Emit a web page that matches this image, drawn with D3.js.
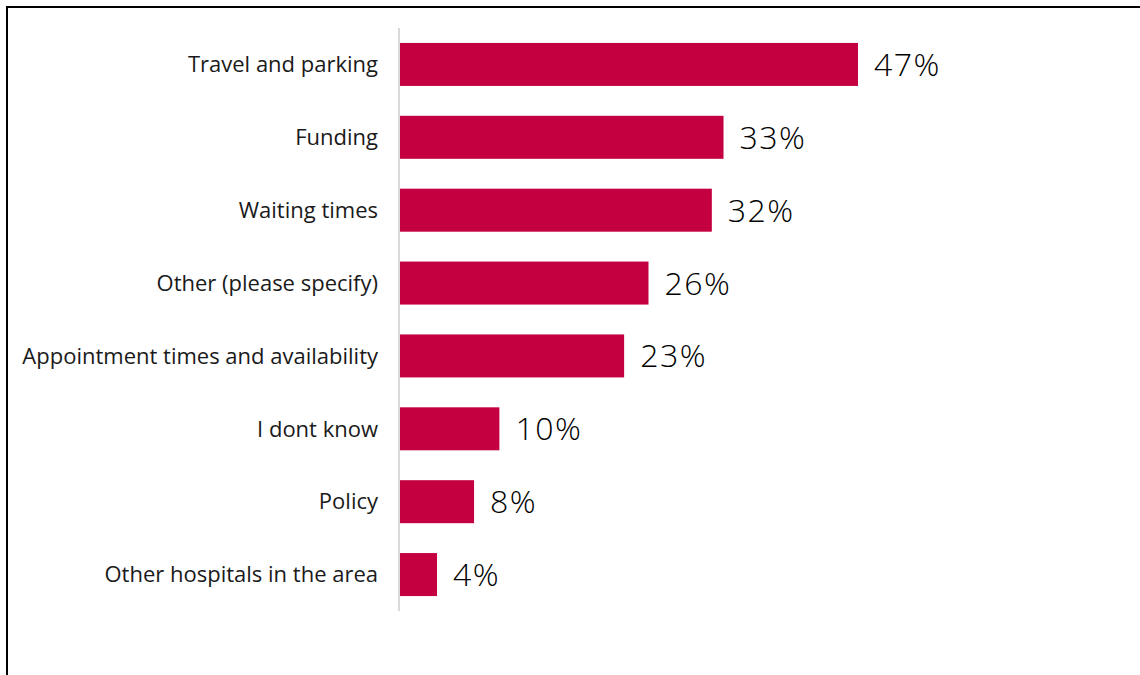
<!DOCTYPE html>
<html>
<head>
<meta charset="utf-8">
<script src="https://cdn.jsdelivr.net/npm/d3@7"></script>
<style>
  html, body { margin: 0; padding: 0; background: #fff; }
  svg { display: block; }
</style>
</head>
<body>
<svg id="chart" width="1140" height="675"></svg>
<script>
const categories = [
  "Travel and parking",
  "Funding",
  "Waiting times",
  "Other (please specify)",
  "Appointment times and availability",
  "I dont know",
  "Policy",
  "Other hospitals in the area"
];
const values = [47.0, 33.2, 32.0, 25.5, 23.0, 10.2, 7.6, 3.8];
const valueLabels = ["47%", "33%", "32%", "26%", "23%", "10%", "8%", "4%"];

const svg = d3.select("#chart");
const W = 1140, H = 675;

// frame lines (top and left)
svg.append("line").attr("x1", 7).attr("x2", 1140).attr("y1", 7).attr("y2", 7)
  .attr("stroke", "#000").attr("stroke-width", 2);
svg.append("line").attr("x1", 7).attr("x2", 7).attr("y1", 6).attr("y2", H)
  .attr("stroke", "#000").attr("stroke-width", 2);

const x0 = 400;
const x = d3.scaleLinear().domain([0, 47]).range([x0, 858]);
const y = d3.scaleBand().domain(categories).range([28, 611]).paddingInner(0.41).paddingOuter(0.205);

const data = categories.map((c, i) => ({ c, v: values[i], l: valueLabels[i] }));

svg.selectAll("rect.bar").data(data).enter().append("rect")
  .attr("class", "bar")
  .attr("x", x(0))
  .attr("y", d => y(d.c))
  .attr("width", d => x(d.v) - x(0))
  .attr("height", y.bandwidth())
  .attr("fill", "#c40041");

// axis line
svg.append("line").attr("x1", 399).attr("x2", 399).attr("y1", 28).attr("y2", 611)
  .attr("stroke", "#d9d9d9").attr("stroke-width", 2);

// category labels
svg.selectAll("text.cat").data(data).enter().append("text")
  .attr("class", "cat")
  .attr("x", 378)
  .attr("y", d => y(d.c) + y.bandwidth() / 2)
  .attr("dy", "0.35em")
  .attr("text-anchor", "end")
  .attr("font-family", "'Open Sans', sans-serif")
  .attr("font-size", 22)
  .attr("fill", "#1a1a1a")
  .text(d => d.c);

// value labels
svg.selectAll("text.val").data(data).enter().append("text")
  .attr("class", "val")
  .attr("x", d => x(d.v) + 16)
  .attr("y", d => y(d.c) + y.bandwidth() / 2)
  .attr("dy", "0.36em")
  .attr("font-family", "'Open Sans', sans-serif")
  .attr("font-size", 32)
  .attr("font-weight", 300)
  .attr("letter-spacing", 1.5)
  .attr("fill", "#000")
  .text(d => d.l);
</script>
</body>
</html>
